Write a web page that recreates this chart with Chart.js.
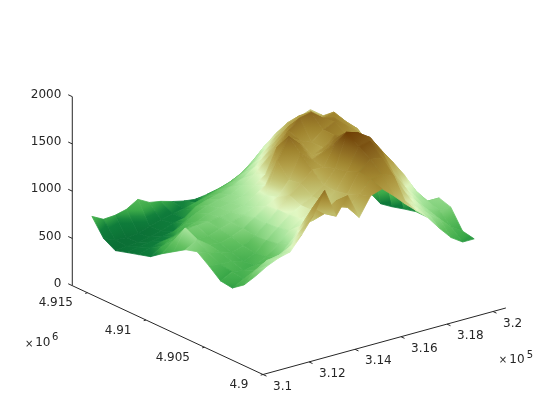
<!DOCTYPE html>
<html>
<head>
<meta charset="utf-8">
<style>
  html, body { margin: 0; padding: 0; background: #fff; }
  canvas { display: block; }
</style>
<script src="https://cdn.jsdelivr.net/npm/chart.js@4"></script>
</head>
<body>
<canvas id="terrain" width="560" height="420"></canvas>
<script>
// grid of the terrain, metres
var eastings = [310700, 311200, 311700, 312200, 312700, 313200, 313700, 314200, 314700, 315200,
                315700, 316200, 316700, 317200, 317700, 318200, 318700, 319200, 319700, 320200];
var northings = [4902000, 4903000, 4904000, 4905000, 4906000, 4907000, 4908000, 4909000,
                 4910000, 4911000, 4912000, 4913000, 4914000, 4915000, 4916000];

// elevation, one list per northing
var elev4902 = [880, 953, 1005, 1036, 1183, 1351, 1585, 1280, 1464, 1200, 1397, 1436, 1330, 1210, 1103, 995, 850, 720, 640, 640];
var elev4903 = [728, 850, 920, 940, 1000, 1150, 1350, 1250, 1350, 1250, 1350, 1480, 1500, 1450, 1150, 1050, 950, 860, 740, 665];
var elev4904 = [638, 700, 760, 800, 830, 950, 1100, 1120, 1180, 1200, 1300, 1500, 1600, 1580, 1350, 1150, 1020, 900, 860, 860];
var elev4905 = [655, 720, 700, 720, 780, 880, 990, 1080, 1130, 1180, 1270, 1450, 1680, 1700, 1560, 1300, 1120, 980, 900, 900];
var elev4906 = [757, 740, 740, 700, 760, 860, 960, 1060, 1130, 1190, 1280, 1420, 1760, 1730, 1650, 1480, 1320, 1150, 950, 640];
var elev4907 = [849, 800, 780, 740, 780, 850, 950, 1060, 1180, 1270, 1380, 1380, 1600, 1680, 1600, 1400, 1300, 1200, 1050, 640];
var elev4908 = [813, 880, 800, 780, 820, 870, 950, 1040, 1100, 1250, 1500, 1400, 1450, 1550, 1520, 1450, 1350, 1250, 1120, 610];
var elev4909 = [734, 950, 800, 800, 840, 880, 920, 980, 1060, 1400, 1620, 1500, 1350, 1400, 1500, 1480, 1400, 1300, 1180, 575];
var elev4910 = [655, 760, 830, 850, 860, 880, 900, 930, 1000, 1080, 1450, 1520, 1450, 1400, 1500, 1550, 1480, 1380, 1220, 550];
var elev4911 = [566, 640, 700, 760, 800, 850, 880, 900, 940, 1020, 1100, 1350, 1500, 1600, 1620, 1530, 1500, 1420, 1320, 620];
var elev4912 = [530, 570, 600, 620, 720, 800, 850, 880, 900, 960, 1040, 1150, 1300, 1450, 1500, 1530, 1440, 1460, 1340, 800];
var elev4913 = [494, 520, 540, 560, 580, 650, 780, 820, 850, 890, 940, 1020, 1120, 1250, 1350, 1420, 1450, 1360, 1380, 1000];
var elev4914 = [457, 470, 480, 500, 530, 580, 600, 650, 760, 800, 840, 900, 980, 1080, 1200, 1300, 1350, 1330, 1280, 1150];
var elev4915 = [528, 480, 470, 480, 520, 560, 590, 610, 640, 680, 720, 760, 820, 920, 1040, 1140, 1220, 1200, 1250, 1200];
var elev4916 = [704, 640, 648, 678, 751, 685, 663, 628, 600, 585, 603, 580, 568, 694, 820, 936, 1043, 1123, 1154, 1200];
var elevation = [elev4902, elev4903, elev4904, elev4905, elev4906, elev4907, elev4908, elev4909,
                 elev4910, elev4911, elev4912, elev4913, elev4914, elev4915, elev4916];

// axes
var xTicks = [310000, 312000, 314000, 316000, 318000, 320000];
var xTickLabels = ['3.1', '3.12', '3.14', '3.16', '3.18', '3.2'];
var yTicks = [4900000, 4905000, 4910000, 4915000];
var yTickLabels = ['4.9', '4.905', '4.91', '4.915'];
var zTicks = [0, 500, 1000, 1500, 2000];
var zTickLabels = ['0', '500', '1000', '1500', '2000'];
var xLim = [310000, 320560];
var yLim = [4900000, 4916300];

// colour map
var mapZ = [450, 590, 660, 800, 950, 1080, 1200, 1350, 1500, 1650, 1780];
var mapR = [10, 15, 58, 98, 168, 226, 198, 181, 160, 133, 106];
var mapG = [110, 125, 168, 192, 228, 248, 200, 163, 132, 96, 56];
var mapB = [53, 59, 72, 96, 156, 196, 122, 76, 46, 28, 0];

function colorAt(z) {
  var i = 0;
  if (z <= mapZ[0]) return 'rgb(' + mapR[0] + ',' + mapG[0] + ',' + mapB[0] + ')';
  while (i < mapZ.length - 2 && z > mapZ[i + 1]) i++;
  var t = Math.min(1, (z - mapZ[i]) / (mapZ[i + 1] - mapZ[i]));
  return 'rgb(' + Math.round(mapR[i] + (mapR[i + 1] - mapR[i]) * t) + ',' +
    Math.round(mapG[i] + (mapG[i + 1] - mapG[i]) * t) + ',' +
    Math.round(mapB[i] + (mapB[i + 1] - mapB[i]) * t) + ')';
}

// fixed view of the 3d box onto the flat chart plane
function project(x, y, z) {
  return {
    x: 263 + 0.023 * (x - 310000) - 0.0117 * (y - 4900000),
    y: 374.5 - 0.0063 * (x - 310000) - 0.00545 * (y - 4900000) - 0.0945 * z
  };
}

// gradient from the lowest to the highest corner of a cell
function cellPaint(corners) {
  return function (ctx) {
    var chart = ctx.chart;
    if (!chart.chartArea) return colorAt(corners[0].z);
    var lo = corners[0], hi = corners[0];
    corners.forEach(function (c) {
      if (c.z < lo.z) lo = c;
      if (c.z > hi.z) hi = c;
    });
    var sx = chart.scales.x, sy = chart.scales.y;
    var g = chart.ctx.createLinearGradient(
      sx.getPixelForValue(lo.px.x), sy.getPixelForValue(lo.px.y),
      sx.getPixelForValue(hi.px.x), sy.getPixelForValue(hi.px.y));
    for (var s = 0; s <= 6; s++) {
      g.addColorStop(s / 6, colorAt(lo.z + (hi.z - lo.z) * s / 6));
    }
    return g;
  };
}

var datasets = [];

function corner(i, j) {
  var z = elevation[j][i];
  return { z: z, px: project(eastings[i], northings[j], z) };
}

// dataset 0 is painted last, so near cells come first
for (var j = 0; j < northings.length - 1; j++) {
  for (var i = 0; i < eastings.length - 1; i++) {
    var cs = [corner(i, j), corner(i + 1, j), corner(i + 1, j + 1), corner(i, j + 1)];
    var paint = cellPaint(cs);
    datasets.push({
      type: 'line',
      data: [cs[0].px, cs[1].px, cs[2].px, cs[3].px, cs[0].px],
      backgroundColor: paint,
      borderColor: paint,
      borderWidth: 0.8,
      pointRadius: 0,
      fill: 'shape',
      tension: 0,
      clip: false
    });
  }
}

function axisLine(points) {
  datasets.unshift({
    type: 'line',
    data: points,
    borderColor: '#262626',
    borderWidth: 1,
    pointRadius: 0,
    fill: false,
    tension: 0,
    clip: false
  });
}

// box edges
axisLine([project(xLim[0], yLim[1], 0), project(xLim[0], yLim[1], zTicks[4])]);
axisLine([project(xLim[0], yLim[1], 0), project(xLim[0], yLim[0], 0)]);
axisLine([project(xLim[0], yLim[0], 0), project(xLim[1], yLim[0], 0)]);

// tick marks
zTicks.forEach(function (t) {
  axisLine([project(xLim[0], yLim[1], t), project(xLim[0], yLim[1] + 350, t)]);
});
yTicks.forEach(function (t) {
  axisLine([project(xLim[0], t, 0), project(xLim[0] - 100, t, 0)]);
});
xTicks.forEach(function (t) {
  axisLine([project(t, yLim[0], 0), project(t, yLim[0] - 300, 0)]);
});

var labelsPlugin = {
  id: 'boxLabels',
  afterDraw: function (chart) {
    var c = chart.ctx, sx = chart.scales.x, sy = chart.scales.y;
    function put(p, dx, dy, text, align, size) {
      c.font = (size || 12) + 'px "DejaVu Sans"';
      c.textAlign = align;
      c.textBaseline = 'middle';
      c.fillStyle = '#262626';
      c.fillText(text, sx.getPixelForValue(p.x) + dx, sy.getPixelForValue(p.y) + dy);
    }
    zTicks.forEach(function (t, k) {
      put(project(xLim[0], yLim[1], t), -11, -2, zTickLabels[k], 'right');
    });
    yTicks.forEach(function (t, k) {
      put(project(xLim[0], t, 0), -14.5, 10.5, yTickLabels[k], 'right');
    });
    xTicks.forEach(function (t, k) {
      put(project(t, yLim[0], 0), 10, 12, xTickLabels[k], 'left');
    });
    // exponents
    var yEnd = project(xLim[0], yLim[1], 0), xEnd = project(xLim[1], yLim[0], 0);
    put(yEnd, -43, 59, '\u00d7', 'center', 10);
    put(yEnd, -29.5, 57, '10', 'center');
    put(yEnd, -17, 52, '6', 'center', 10);
    put(xEnd, -3, 52, '\u00d7', 'center', 10);
    put(xEnd, 11, 51.5, '10', 'center');
    put(xEnd, 24, 47, '5', 'center', 10);
  }
};

new Chart(document.getElementById('terrain'), {
  type: 'scatter',
  data: { datasets: datasets },
  options: {
    responsive: false,
    animation: false,
    events: [],
    layout: { padding: 0 },
    plugins: { legend: { display: false }, tooltip: { enabled: false } },
    scales: {
      x: { display: false, min: 0, max: 560 },
      y: { display: false, min: 0, max: 420, reverse: true }
    }
  },
  plugins: [labelsPlugin]
});
</script>
</body>
</html>
